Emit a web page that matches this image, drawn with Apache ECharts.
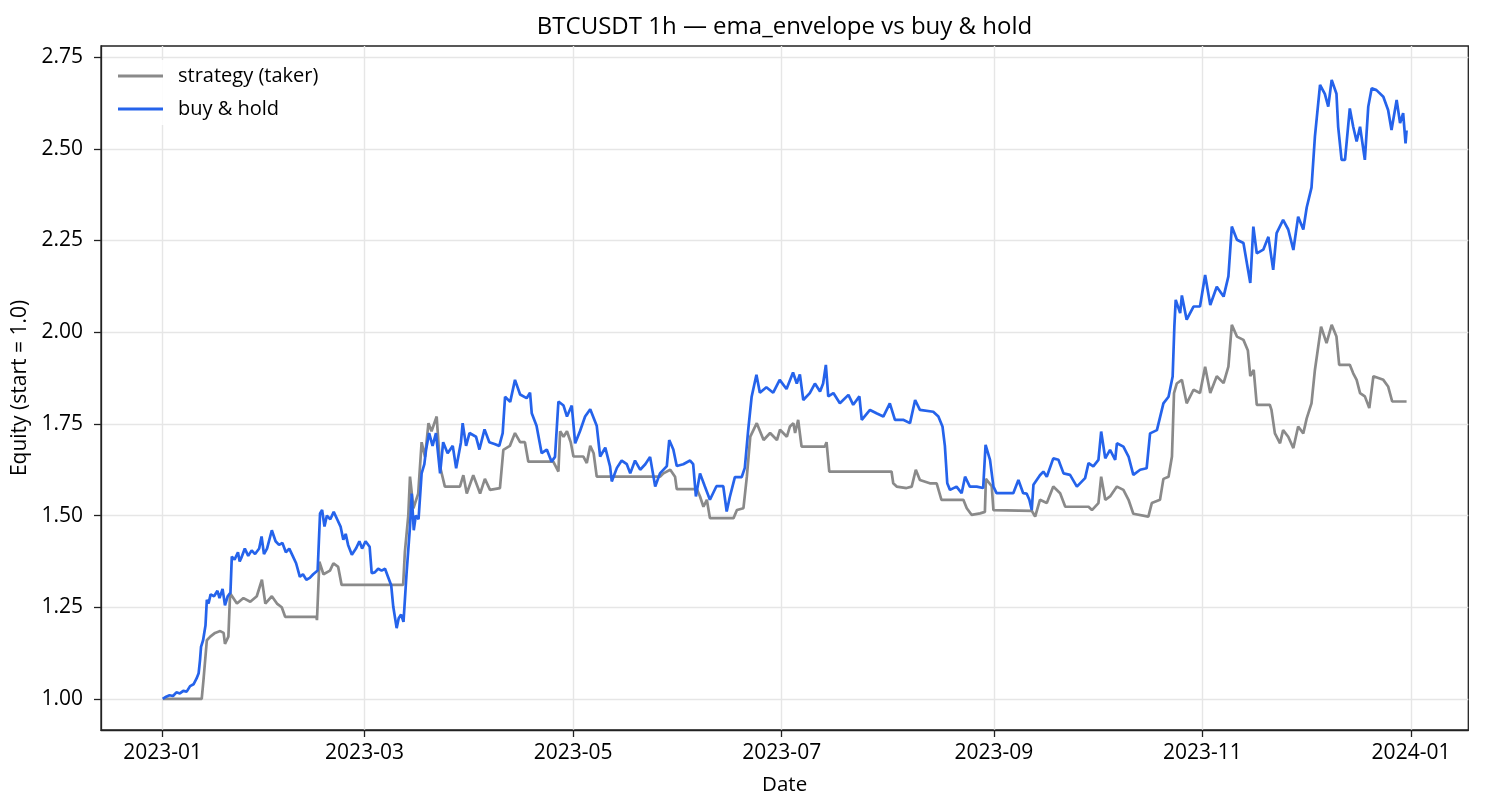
<!DOCTYPE html>
<html>
<head>
<meta charset="utf-8">
<script src="https://cdn.jsdelivr.net/npm/echarts@6/dist/echarts.min.js"></script>
<style>
html,body{margin:0;padding:0;background:#fff;}
#chart{width:1485px;height:810px;}
</style>
</head>
<body>
<div id="chart"></div>
<script>
// Days elapsed since 2023-01-01 00:00 and equity values (start = 1.0)
const holdDays = [0,1,2,3,4,5,6,7,8,9,9.9,10.5,10.9,11.2,11.8,12.5,12.9,13.4,14,15,16,16.6,17.5,18.2,19,19.8,20.2,21,22,22.5,23,24,25,26,27,28.2,28.9,29.6,30.5,31.9,33,34,35,36,37,38,39,40.1,41,42,43,44,45.3,46,46.6,47.3,48,49,50,51,52,52.8,53.5,54.2,55.3,56.5,57.5,58.3,59.3,60.5,61.1,62,63,64,65,66,66.8,67.4,68.4,69,69.7,70.4,71.3,72.3,72.8,73.4,74,74.8,75.7,76.5,77,77.9,78.9,79.9,81.1,82,83.3,84.8,85.8,87.2,87.7,88.7,89.7,91.6,92.6,94.1,95.5,97,98.4,99.4,100.1,101.6,103,104.5,106.4,107.4,107.9,109.3,110.8,112.3,113.7,114.7,115.7,117.2,118.2,119.6,120.6,122,123.5,125,126.9,127.9,129.4,130.8,131.3,132.8,134.2,135.7,136.7,138.1,139.6,141.1,142.5,144,145.4,147.4,148.1,149.3,150.3,152.2,154.2,155.1,155.9,157.1,158.5,160,161.9,163.9,164.9,165.8,167.3,169.3,170.2,171.2,172.2,173.6,174.6,176.5,178.5,180.4,182.4,184.3,185.4,186.3,187.3,189.2,190.7,192.2,193.1,193.9,194.6,196.1,198,200.5,201.9,203.7,204.4,206.8,208.7,210.7,212.6,214.1,216.5,218.5,220,221.4,225.3,226.8,228,228.7,229.4,230.2,232.1,233.6,234.6,236,238,239.9,240.6,241.9,242.9,243.8,246.8,248.7,250.2,251.6,252.6,253.4,254.1,254.6,256.5,257.5,258.5,260.4,261.9,263.4,265.3,267.3,269.7,270.7,272.1,273.6,274.4,275.6,277,278.5,279,280.9,282.4,283.8,285.8,287.7,288.7,290.7,292.6,294.1,295.3,295.8,296.2,297.5,298,299.4,301.4,303.3,304.8,306.3,308.2,310.2,311.6,312.6,314.1,316,318,318.9,319.9,321.8,323.3,324.7,325.7,327.6,329.1,330.6,332,333.5,334.5,335.9,336.9,338.4,339.8,340.8,341.8,343.2,343.7,344.7,345.7,347.1,348.1,349.1,350.1,351.5,352.5,353.5,354.9,356.9,358.3,359.3,360.8,361.8,362.7,363.4,363.7];
const holdEquity = [1.000,1.006,1.010,1.008,1.018,1.015,1.022,1.020,1.035,1.040,1.056,1.070,1.106,1.142,1.160,1.200,1.270,1.260,1.285,1.280,1.295,1.275,1.300,1.255,1.280,1.290,1.388,1.380,1.400,1.375,1.385,1.410,1.390,1.405,1.395,1.410,1.443,1.395,1.410,1.460,1.430,1.420,1.425,1.400,1.410,1.390,1.370,1.333,1.340,1.325,1.330,1.340,1.350,1.506,1.515,1.470,1.500,1.490,1.510,1.490,1.470,1.434,1.450,1.420,1.393,1.410,1.430,1.410,1.430,1.415,1.343,1.345,1.355,1.350,1.355,1.330,1.310,1.252,1.193,1.220,1.230,1.210,1.343,1.470,1.560,1.460,1.500,1.490,1.615,1.640,1.680,1.725,1.690,1.725,1.615,1.700,1.670,1.690,1.629,1.700,1.752,1.690,1.725,1.715,1.680,1.735,1.700,1.695,1.690,1.725,1.824,1.810,1.870,1.830,1.820,1.835,1.779,1.745,1.670,1.680,1.647,1.660,1.811,1.800,1.770,1.800,1.697,1.730,1.770,1.790,1.745,1.661,1.685,1.634,1.593,1.630,1.650,1.640,1.615,1.650,1.625,1.640,1.660,1.579,1.615,1.635,1.706,1.680,1.635,1.640,1.650,1.640,1.552,1.615,1.580,1.543,1.580,1.580,1.511,1.550,1.605,1.605,1.630,1.734,1.824,1.884,1.835,1.850,1.835,1.870,1.845,1.890,1.860,1.885,1.815,1.834,1.860,1.838,1.860,1.911,1.825,1.834,1.806,1.829,1.802,1.825,1.761,1.788,1.779,1.770,1.806,1.761,1.761,1.752,1.815,1.788,1.783,1.770,1.743,1.690,1.588,1.570,1.579,1.561,1.606,1.579,1.579,1.575,1.693,1.652,1.579,1.561,1.561,1.561,1.597,1.561,1.560,1.543,1.515,1.584,1.610,1.620,1.606,1.656,1.652,1.615,1.611,1.579,1.602,1.643,1.634,1.652,1.729,1.656,1.679,1.652,1.697,1.688,1.661,1.611,1.625,1.629,1.724,1.733,1.806,1.824,1.879,2.015,2.088,2.052,2.100,2.034,2.070,2.070,2.156,2.074,2.124,2.097,2.152,2.288,2.252,2.243,2.134,2.288,2.215,2.225,2.260,2.170,2.270,2.306,2.280,2.224,2.315,2.280,2.340,2.394,2.533,2.674,2.650,2.615,2.688,2.650,2.560,2.470,2.470,2.610,2.560,2.520,2.560,2.470,2.615,2.665,2.660,2.642,2.606,2.551,2.633,2.570,2.597,2.515,2.550];

const stratDays = [0,11.4,11.9,12.9,13.9,15.3,16.8,17.8,18.2,19.2,19.7,21.7,23.6,25.6,27.5,29,30,31.9,33.4,34.8,35.8,44.9,45.1,45.8,47,48.9,49.9,51.3,52.3,70.3,70.8,71.8,72.3,73.3,74.7,75.7,76.7,77.7,78.6,80.1,81.1,82.5,86.9,87.9,88.9,90.8,92.8,94.2,95.7,98.6,99.6,101.5,103,104.5,105.9,106.9,114.2,115.7,116.2,117.2,118.2,119.3,120.1,123,124,125,126,126.9,145.4,146.4,148.4,149.8,150.3,156.2,157.1,158.1,159.1,160,166.9,167.9,169.8,170.8,171.8,173.7,175.7,177.6,179.6,180.5,182.5,183.4,184.4,184.9,185.8,186.8,193.6,194.1,194.9,213.1,213.6,214.6,217.5,219,220.2,221.4,224.3,226.3,227.7,234.1,235.1,236.5,239,240.4,240.7,242.4,242.9,254.1,255.1,256.5,258.5,260.4,262.4,263.9,270.7,271.7,273.6,274.4,275.6,277,279,280.9,282.4,283.8,288.2,289.2,291.6,292.6,294.1,295.1,295.7,296.5,298,299.4,301.4,303.3,304.8,306.3,308.2,310.2,311.6,312.6,314.1,316,317.3,318,319,319.9,323.7,324.2,325.2,326.7,327.6,329.1,330.6,332,333.5,334.5,335.9,336.9,338.7,340.3,341.8,343.2,344,347.1,348.1,349.1,350.1,351.5,352.8,354,356.9,358.3,359.5,363.7];
const stratEquity = [1.000,1.000,1.050,1.160,1.170,1.180,1.185,1.180,1.150,1.170,1.288,1.260,1.275,1.265,1.280,1.325,1.260,1.280,1.260,1.250,1.224,1.224,1.215,1.374,1.340,1.350,1.370,1.360,1.311,1.311,1.400,1.500,1.606,1.520,1.560,1.700,1.660,1.752,1.730,1.770,1.633,1.579,1.579,1.610,1.560,1.610,1.560,1.600,1.570,1.575,1.679,1.690,1.725,1.700,1.700,1.647,1.647,1.620,1.730,1.715,1.730,1.700,1.661,1.661,1.643,1.690,1.670,1.606,1.606,1.615,1.625,1.606,1.572,1.572,1.552,1.524,1.543,1.493,1.493,1.515,1.520,1.606,1.715,1.752,1.706,1.725,1.706,1.734,1.715,1.743,1.752,1.725,1.761,1.688,1.688,1.700,1.620,1.620,1.588,1.579,1.575,1.579,1.625,1.597,1.588,1.588,1.543,1.543,1.520,1.502,1.506,1.510,1.600,1.580,1.515,1.513,1.497,1.543,1.534,1.579,1.561,1.524,1.524,1.515,1.534,1.606,1.543,1.552,1.579,1.570,1.543,1.505,1.497,1.534,1.543,1.600,1.606,1.661,1.834,1.860,1.870,1.806,1.843,1.834,1.906,1.834,1.880,1.861,1.906,2.020,1.988,1.979,1.950,1.880,1.897,1.802,1.802,1.788,1.724,1.697,1.733,1.715,1.684,1.743,1.724,1.765,1.806,1.897,2.015,1.970,2.020,1.988,1.911,1.911,1.888,1.870,1.834,1.825,1.793,1.880,1.870,1.852,1.811,1.811];

const xTickDates = ['2023-01-01','2023-03-01','2023-05-01','2023-07-01','2023-09-01','2023-11-01','2024-01-01'];
const yTicks = [1.00,1.25,1.50,1.75,2.00,2.25,2.50,2.75];
const seriesNames = ['strategy (taker)','buy & hold'];

const DAY = 86400000;
const base = new Date(2023,0,1).getTime();
function toTs(d){ return base + d*DAY; }
function parseDate(s){ const p=s.split('-'); return new Date(+p[0], +p[1]-1, +p[2]).getTime(); }
function pad(n){ return n<10 ? '0'+n : ''+n; }

const stratData = stratDays.map((d,i)=>[toTs(d), stratEquity[i]]);
const holdData = holdDays.map((d,i)=>[toTs(d), holdEquity[i]]);
const xTickVals = xTickDates.map(parseDate);

const FONT = 'Open Sans';
const chart = echarts.init(document.getElementById('chart'), null, {renderer:'canvas'});
chart.setOption({
  animation:false,
  backgroundColor:'#ffffff',
  textStyle:{fontFamily:FONT},
  title:{
    text:'BTCUSDT 1h — ema_envelope vs buy & hold',
    left:784.5, top:15, textAlign:'center', padding:0,
    textStyle:{fontFamily:FONT, fontSize:24, fontWeight:'normal', color:'#000'}
  },
  grid:{left:101, right:16.7, top:46, bottom:80, show:true, borderColor:'#222', borderWidth:1.3, backgroundColor:'transparent'},
  legend:{
    orient:'vertical', left:106, top:60, padding:[6,12,6,12],
    backgroundColor:'rgba(255,255,255,0.85)',
    itemWidth:45, itemHeight:2.8, itemGap:13, icon:'rect',
    data:seriesNames,
    textStyle:{fontFamily:FONT, fontSize:20, color:'#000', padding:[0,0,0,10], lineHeight:20}
  },
  xAxis:{
    type:'value',
    min:toTs(-18.05), max:toTs(381.75),
    name:'Date', nameLocation:'middle', nameGap:45,
    nameTextStyle:{fontFamily:FONT, fontSize:20.5, color:'#000'},
    axisLine:{show:true, lineStyle:{color:'#222', width:1.3}},
    axisTick:{show:true, length:7, lineStyle:{color:'#222', width:1.3}, customValues:xTickVals},
    axisLabel:{show:true, margin:13, fontFamily:FONT, fontSize:21, color:'#000', customValues:xTickVals,
      formatter:function(v){ const d=new Date(v); return d.getFullYear()+'-'+pad(d.getMonth()+1); }},
    splitLine:{show:true, lineStyle:{color:'#e6e6e6', width:1.4}}
  },
  yAxis:{
    type:'value',
    min:0.9153, max:2.7803,
    name:'Equity (start = 1.0)', nameLocation:'middle', nameGap:58, nameRotate:90,
    nameTextStyle:{fontFamily:FONT, fontSize:21, color:'#000'},
    axisLine:{show:true, lineStyle:{color:'#222', width:1.3}},
    axisTick:{show:true, length:7, lineStyle:{color:'#222', width:1.3}, customValues:yTicks},
    axisLabel:{show:true, margin:18, fontFamily:FONT, fontSize:21, color:'#000', customValues:yTicks,
      formatter:function(v){ return Number(v).toFixed(2); }},
    splitLine:{show:true, lineStyle:{color:'#e6e6e6', width:1.4}}
  },
  series:[
    {name:seriesNames[0], type:'line', data:stratData, showSymbol:false, symbol:'none',
     lineStyle:{color:'#8a8a8a', width:2.7}, itemStyle:{color:'#8a8a8a'}, z:2},
    {name:seriesNames[1], type:'line', data:holdData, showSymbol:false, symbol:'none',
     lineStyle:{color:'#2563eb', width:2.7}, itemStyle:{color:'#2563eb'}, z:3}
  ]
});
</script>
</body>
</html>
